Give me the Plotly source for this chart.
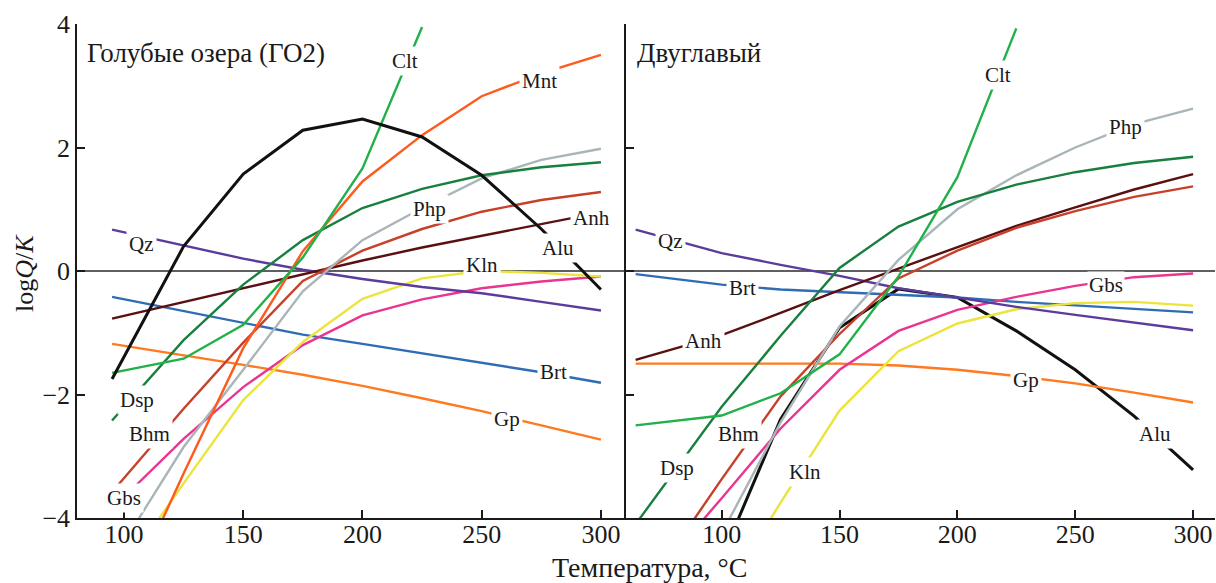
import plotly.graph_objects as go

FONT = "Liberation Serif"

# ---- Голубые озера (ГО2): temperature grid and log Q/K values ----
t_left = [95, 125, 150, 175, 200, 225, 250, 275, 300]
left_alu = [-1.75, 0.4, 1.57, 2.28, 2.46, 2.17, 1.55, 0.68, -0.3]
left_clt = [-1.65, -1.42, -0.87, 0.22, 1.66, 3.95]
left_mnt = [-5.8, -3.28, -1.25, 0.32, 1.45, 2.2, 2.83, 3.2, 3.5]
left_dsp = [-2.42, -1.12, -0.22, 0.5, 1.02, 1.33, 1.55, 1.68, 1.76]
left_php = [-4.7, -2.85, -1.6, -0.33, 0.5, 1.02, 1.5, 1.8, 1.98]
left_bhm = [-3.58, -2.23, -1.16, -0.16, 0.33, 0.68, 0.96, 1.15, 1.28]
left_anh = [-0.77, -0.5, -0.27, -0.05, 0.17, 0.38, 0.57, 0.77, 0.95]
left_qz = [0.67, 0.42, 0.2, 0.02, -0.13, -0.26, -0.36, -0.5, -0.64]
left_kln = [-5.1, -3.44, -2.09, -1.15, -0.45, -0.12, 0.0, -0.03, -0.09]
left_gbs = [-3.85, -2.72, -1.88, -1.2, -0.72, -0.46, -0.28, -0.17, -0.09]
left_brt = [-0.42, -0.65, -0.85, -1.03, -1.18, -1.33, -1.48, -1.64, -1.81]
left_gp = [-1.18, -1.36, -1.52, -1.68, -1.86, -2.06, -2.27, -2.5, -2.73]

# ---- Двуглавый ----
t_right = [63.5, 100, 125, 150, 175, 200, 225, 250, 275, 300]
right_alu = [None, -4.65, -2.4, -0.92, -0.29, -0.43, -0.97, -1.6, -2.35, -3.22]
right_clt = [-2.5, -2.34, -1.98, -1.35, -0.09, 1.52, 3.93, None, None, None]
right_dsp = [-4.1, -2.2, -1.05, 0.05, 0.72, 1.12, 1.4, 1.6, 1.75, 1.85]
right_php = [None, -4.25, -2.45, -0.9, 0.18, 1.0, 1.55, 2.0, 2.38, 2.63]
right_bhm = [-5.4, -3.37, -2.03, -1.02, -0.12, 0.33, 0.7, 0.97, 1.2, 1.37]
right_anh = [-1.44, -1.04, -0.68, -0.31, 0.04, 0.39, 0.73, 1.03, 1.32, 1.57]
right_qz = [0.67, 0.29, 0.1, -0.08, -0.28, -0.43, -0.58, -0.71, -0.83, -0.96]
right_kln = [None, -5.3, -3.75, -2.26, -1.3, -0.85, -0.62, -0.52, -0.5, -0.56]
right_gbs = [-5.3, -3.68, -2.55, -1.6, -0.97, -0.63, -0.42, -0.24, -0.1, -0.04]
right_brt = [-0.05, -0.22, -0.3, -0.34, -0.38, -0.43, -0.5, -0.56, -0.62, -0.67]
right_gp = [-1.5, -1.5, -1.5, -1.5, -1.53, -1.6, -1.7, -1.82, -1.97, -2.13]

colors = {
    "Alu": "#111111",
    "Clt": "#22b04a",
    "Mnt": "#ff5a1e",
    "Dsp": "#17803f",
    "Php": "#a9b5b8",
    "Bhm": "#c8402a",
    "Anh": "#5a1010",
    "Qz": "#5b3b9c",
    "Kln": "#ece43c",
    "Gbs": "#ea3590",
    "Brt": "#2f6cb4",
    "Gp": "#ff7a1e",
}

# drawing order (first = bottom)
left_series = [
    ("Gp", left_gp), ("Brt", left_brt), ("Gbs", left_gbs), ("Kln", left_kln),
    ("Qz", left_qz), ("Anh", left_anh), ("Bhm", left_bhm), ("Php", left_php),
    ("Dsp", left_dsp), ("Mnt", left_mnt), ("Clt", left_clt), ("Alu", left_alu),
]
right_series = [
    ("Alu", right_alu), ("Gp", right_gp), ("Brt", right_brt), ("Gbs", right_gbs),
    ("Kln", right_kln), ("Qz", right_qz), ("Anh", right_anh), ("Bhm", right_bhm),
    ("Php", right_php), ("Dsp", right_dsp), ("Clt", right_clt),
]

# label positions (temperature, log Q/K) for each curve
left_labels = {
    "Clt": (217.8, 3.4), "Mnt": (274.4, 3.08), "Php": (228.3, 1.0),
    "Anh": (296.2, 0.86), "Alu": (282.0, 0.37), "Kln": (250.1, 0.1),
    "Qz": (107.5, 0.44), "Brt": (279.9, -1.64), "Gp": (260.6, -2.4),
    "Dsp": (105.4, -2.09), "Bhm": (110.5, -2.64), "Gbs": (100.0, -3.68),
}
right_labels = {
    "Clt": (217.3, 3.17), "Php": (271.5, 2.33), "Qz": (78.1, 0.49),
    "Brt": (109.0, -0.27), "Anh": (92.5, -1.13), "Gbs": (263.0, -0.22),
    "Gp": (229.1, -1.77), "Dsp": (81.0, -3.19), "Bhm": (107.3, -2.64),
    "Kln": (135.4, -3.26), "Alu": (283.8, -2.64),
}

fig = go.Figure()

for name, vals in left_series:
    fig.add_trace(go.Scatter(
        x=t_left[:len(vals)], y=vals, mode="lines", name=name,
        line=dict(color=colors[name], width=3 if name == "Alu" else 2.4),
        xaxis="x", yaxis="y", showlegend=False, connectgaps=False,
    ))
for name, vals in right_series:
    fig.add_trace(go.Scatter(
        x=t_right, y=vals, mode="lines", name=name,
        line=dict(color=colors[name], width=3 if name == "Alu" else 2.4),
        xaxis="x2", yaxis="y2", showlegend=False, connectgaps=False,
    ))

annotations = []
for name, (xv, yv) in left_labels.items():
    annotations.append(dict(x=xv, y=yv, xref="x", yref="y", text=name,
                            showarrow=False, bgcolor="white", borderpad=2,
                            font=dict(family=FONT, size=21, color="#1a1a1a")))
for name, (xv, yv) in right_labels.items():
    annotations.append(dict(x=xv, y=yv, xref="x2", yref="y2", text=name,
                            showarrow=False, bgcolor="white",
                            borderpad=1 if name == "Gbs" else 2,
                            font=dict(family=FONT, size=21, color="#1a1a1a")))

annotations += [
    dict(x=0.007, y=0.941, xref="paper", yref="paper", xanchor="left",
         yanchor="middle", text="Голубые озера (ГО2)", showarrow=False,
         font=dict(family=FONT, size=27, color="#1a1a1a")),
    dict(x=0.4903, y=0.941, xref="paper", yref="paper", xanchor="left",
         yanchor="middle", text="Двуглавый", showarrow=False,
         font=dict(family=FONT, size=27, color="#1a1a1a")),
    dict(x=0.5035, y=-0.101, xref="paper", yref="paper", xanchor="center",
         yanchor="middle", text="Температура, °C", showarrow=False,
         font=dict(family=FONT, size=28, color="#1a1a1a")),
    dict(x=-0.0457, y=0.496, xref="paper", yref="paper", xanchor="center",
         yanchor="middle", text="log<i>Q</i>/<i>K</i>", textangle=-90,
         showarrow=False, font=dict(family=FONT, size=26, color="#1a1a1a")),
]

axis_common = dict(showgrid=False, zeroline=False, showline=True,
                   linecolor="#1a1a1a", linewidth=1.5, ticks="inside",
                   ticklen=8, tickwidth=1.5, tickcolor="#1a1a1a",
                   tickfont=dict(family=FONT, size=26, color="#1a1a1a"))

fig.update_layout(
    width=1216, height=583,
    margin=dict(l=77, r=1, t=24, b=65),
    paper_bgcolor="white", plot_bgcolor="white",
    xaxis=dict(domain=[0, 0.4824], range=[80.3, 310.5], anchor="y",
               tickvals=[100, 150, 200, 250, 300], ticklabelstandoff=-8,
               **axis_common),
    yaxis=dict(domain=[0, 1], range=[-4, 4], anchor="x",
               tickvals=[-4, -2, 0, 2, 4],
               ticktext=["\u22124", "\u22122", "0", "2", "4"], **axis_common),
    xaxis2=dict(domain=[0.4824, 1], range=[59.4, 309.3], anchor="y2",
                tickvals=[100, 150, 200, 250, 300], ticklabelstandoff=-8,
                **axis_common),
    yaxis2=dict(domain=[0, 1], range=[-4, 4], anchor="x2",
                tickvals=[-4, -2, 0, 2, 4], showticklabels=False,
                **axis_common),
    annotations=annotations,
    shapes=[
        dict(type="line", xref="x domain", yref="y", x0=0, x1=1, y0=0, y1=0,
             line=dict(color="#2a2a2a", width=1.5), layer="below"),
        dict(type="line", xref="x2 domain", yref="y2", x0=0, x1=1, y0=0, y1=0,
             line=dict(color="#2a2a2a", width=1.5), layer="below"),
    ],
)

fig.write_html("out.html")
